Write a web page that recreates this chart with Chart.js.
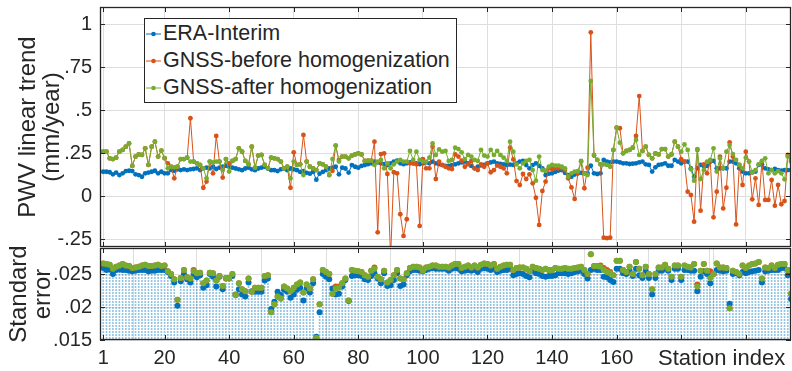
<!DOCTYPE html>
<html>
<head>
<meta charset="utf-8">
<script src="https://cdn.jsdelivr.net/npm/chart.js@4.4.1/dist/chart.umd.min.js"></script>
<style>
  html, body { margin: 0; padding: 0; background: #fff; }
  #wrap { position: relative; width: 792px; height: 371px; overflow: hidden; }
  #wrap canvas { position: absolute; left: 0; }
  #topCanvas { top: 0; }
  #bottomCanvas { top: 247px; }
  #legend {
    position: absolute; left: 144px; top: 18px; width: 311px; height: 82px;
    border: 1px solid #262626; background: #fff;
    font-family: "Liberation Sans", Arial, sans-serif; font-size: 21.5px; color: #262626;
    padding-top: 1px; box-sizing: content-box;
  }
  #legend .row { height: 27px; display: flex; align-items: center; white-space: nowrap; }
  #legend svg { margin-left: 1px; margin-right: 2px; flex: none; }
</style>
</head>
<body>
<div id="wrap">
  <canvas id="topCanvas" width="792" height="248"></canvas>
  <canvas id="bottomCanvas" width="792" height="124"></canvas>
  <div id="legend"></div>
</div>
<script>
// station index (x axis categories)
const stations = Array.from({ length: 214 }, (_, i) => i + 1);

// PWV linear trend (mm/year)
const eraTrend = [
  0.141,0.141,0.138,0.126,0.136,0.122,0.132,0.145,0.147,0.145,0.126,0.122,0.112,0.132,0.136,0.141,0.147,0.132,0.141,0.132,
  0.132,0.151,0.147,0.155,0.151,0.155,0.151,0.155,0.157,0.161,0.151,0.161,0.165,0.161,0.17,0.157,0.165,0.17,0.176,0.17,
  0.165,0.16,0.155,0.15,0.16,0.165,0.155,0.15,0.16,0.165,0.17,0.16,0.15,
  0.15,0.145,0.155,0.16,0.15,0.16,0.155,0.15,0.14,0.145,0.135,0.13,0.14,
  0.095,
  0.13,0.14,0.15,0.16,0.165,0.17,
  0.126,0.165,0.16,0.136,0.18,0.17,0.165,0.175,0.18,0.185,0.19,0.2,0.195,0.19,0.185,0.18,0.19,0.2,0.205,0.19,
  0.185,0.19,0.195,0.19,0.19,0.185,0.19,0.195,0.19,0.2,0.19,0.185,0.18,0.175,
  0.175,0.18,0.184,0.19,0.195,0.2,0.19,0.175,0.161,0.17,0.178,0.181,0.19,0.195,0.2,0.19,0.186,0.184,0.18,0.183,
  0.181,0.19,0.2,0.204,0.18,0.161,0.18,0.19,0.175,0.161,0.122,0.13,0.132,0.14,0.148,0.151,0.135,0.122,0.112,0.125,
  0.132,0.135,0.132,0.132,0.176,0.132,0.128,0.132,0.21,0.2,0.196,0.2,0.2,0.196,
  0.19,0.19,0.186,0.188,0.19,0.196,0.2,0.184,0.181,0.142,0.167,0.181,0.184,0.19,0.176,0.176,0.21,0.2,0.19,0.2,
  0.2,0.161,0.112,0.161,0.181,0.175,0.175,0.2,0.204,0.161,0.161,0.161,0.161,0.2,0.2,0.19,0.161,0.142,0.132,0.132,
  0.138,0.142,0.181,0.184,0.161,0.155,0.151,0.157,0.151,0.147,0.151,0.151,0.151
];
const beforeTrend = [
  0.258,0.258,0.219,0.215,0.223,0.258,0.268,0.287,0.306,0.175,0.229,0.242,0.239,0.277,0.181,0.287,0.316,0.229,0.264,0.22,
  0.19,0.17,0.103,0.17,0.215,0.215,0.223,0.452,0.2,0.19,0.181,0.048,0.084,0.2,0.132,0.349,0.2,0.107,0.215,0.19,
  0.204,0.215,0.277,0.258,0.204,0.184,0.287,0.165,0.235,0.239,0.181,0.161,0.223,
  0.219,0.215,0.2,0.161,0.17,0.048,0.254,0.181,0.184,0.355,0.2,0.17,0.161,0.151,0.19,0.184,0.17,0.122,0.147,0.293,
  0.21,0.229,0.229,0.219,0.235,0.242,0.248,0.242,0.204,0.206,0.206,0.316,-0.211,0.244,0.248,0.128,-0.35,0.138,0.132,-0.106,
  -0.232,-0.135,0.19,0.19,0.184,-0.174,0.215,0.161,0.161,0.287,0.099,0.2,0.181,0.17,
  0.161,0.157,0.242,0.229,0.206,0.17,0.184,0.204,0.161,0.151,0.184,0.17,0.19,0.138,0.151,0.177,0.17,0.161,0.132,0.281,
  0.213,0.087,0.064,0.128,0.099,0.126,0.074,-0.01,-0.168,0.029,0.084,0.161,0.157,0.161,0.161,0.161,0.151,0.103,0.05,-0.017,
  0.132,0.2,0.045,0.165,0.952,0.235,0.21,0.184,-0.242,-0.245,-0.242,0.268,0.397,0.394,
  0.248,0.262,0.268,0.281,0.349,0.581,0.262,0.287,0.239,0.219,0.248,0.242,0.273,0.273,0.229,0.242,0.316,0.287,0.215,0.2,
  0.025,0.006,-0.149,0.268,-0.085,0.184,0.132,0.2,-0.124,0.025,0.229,-0.072,0.048,0.312,0.229,-0.165,0.181,0.064,0.258,0.2,
  -0.019,0.103,-0.052,0.2,-0.023,-0.023,0.093,-0.056,0.064,-0.048,-0.029,0.239,0.21
];
const afterTrend = [
  0.258,0.258,0.219,0.215,0.223,0.258,0.268,0.287,0.306,0.175,0.229,0.242,0.239,0.277,0.181,0.287,0.316,0.229,0.264,0.22,
  0.161,0.17,0.167,0.17,0.215,0.215,0.223,0.2,0.2,0.19,0.181,0.161,0.103,0.2,0.196,0.2,0.2,0.151,0.215,0.142,
  0.204,0.215,0.277,0.258,0.204,0.184,0.287,0.165,0.235,0.239,0.181,0.161,0.223,
  0.219,0.215,0.2,0.161,0.17,0.103,0.2,0.181,0.184,0.122,0.2,0.17,0.161,0.151,0.19,0.184,0.17,0.122,0.215,0.293,
  0.2,0.229,0.229,0.219,0.235,0.242,0.248,0.242,0.204,0.206,0.206,0.181,0.2,0.21,0.161,0.19,0.161,0.184,0.2,0.21,
  0.2,0.2,0.262,0.21,0.258,0.21,0.2,0.2,0.223,0.306,0.239,0.271,0.258,0.262,
  0.204,0.21,0.281,0.273,0.254,0.215,0.239,0.229,0.21,0.204,0.268,0.235,0.229,0.268,0.239,0.262,0.239,0.223,0.204,0.316,
  0.258,0.184,0.161,0.19,0.204,0.21,0.151,0.089,0.229,0.151,0.147,0.17,0.181,0.177,0.177,0.17,0.161,0.112,0.132,0.142,
  0.145,0.204,0.132,0.122,0.669,0.239,0.21,0.184,0.184,0.181,0.17,0.268,0.397,0.31,
  0.248,0.262,0.268,0.281,0.326,0.239,0.262,0.287,0.239,0.219,0.248,0.242,0.273,0.273,0.229,0.242,0.316,0.287,0.258,0.3,
  0.268,0.155,0.089,0.273,0.099,0.151,0.2,0.21,0.277,0.142,0.219,0.161,0.258,0.296,0.244,0.21,0.181,0.161,0.223,0.2,
  0.136,0.151,0.184,0.204,0.219,0.132,0.151,0.132,0.145,0.132,0.097,0.229,0.2
];

// standard error of the trends
const eraSE = [
  0.0259,0.0256,0.0257,0.025,0.0256,0.0257,0.0256,0.0256,0.0255,0.0254,0.0255,0.0256,0.0256,0.0256,0.0254,0.0255,0.0255,0.0256,0.0256,0.0256,
  0.0253,0.0247,0.0237,0.0202,0.0239,0.025,0.0242,0.0237,0.025,0.0245,0.0248,0.0229,0.0233,0.025,0.0246,0.0231,0.0246,0.0227,0.0243,0.0243,
  0.0247,0.0219,0.0227,0.0219,0.0216,0.0237,0.0224,0.0223,0.0223,0.0223,0.024,0.0243,0.0197,
  0.0208,0.0223,0.0218,0.0226,0.0223,0.0214,0.0219,0.0226,0.0229,0.021,0.0228,0.0222,0.0236,0.0155,0.0192,0.025,0.0246,0.0242,0.0228,0.0219,
  0.022,0.0231,0.0241,0.0209,0.0247,0.0248,0.0248,0.0247,0.0242,0.0241,0.0247,0.0251,0.0243,0.0236,0.0251,0.0232,0.0233,0.0241,0.0251,0.0232,
  0.0234,0.0248,0.0254,0.0256,0.0256,0.0255,0.0254,0.0256,0.0258,0.0259,0.0258,0.0258,0.0258,0.0258,
  0.0255,0.0258,0.0259,0.0258,0.0254,0.0255,0.0256,0.0255,0.0256,0.0253,0.0258,0.0259,0.0258,0.0256,0.0258,0.0253,0.0255,0.0256,0.0256,0.0258,
  0.0248,0.025,0.0251,0.025,0.0247,0.0245,0.0255,0.0251,0.025,0.0247,0.0246,0.0247,0.0247,0.0248,0.0251,0.0251,0.0251,0.025,0.0251,0.0253,
  0.0254,0.0255,0.025,0.0243,0.0256,0.0258,0.0256,0.0256,0.0246,0.0245,0.0241,0.0238,0.0258,0.0258,
  0.0251,0.025,0.0255,0.0247,0.0258,0.0248,0.0244,0.0254,0.0244,0.0219,0.0244,0.0255,0.0255,0.0258,0.0255,0.0241,0.0258,0.0258,0.0241,0.0256,
  0.0256,0.0255,0.0255,0.0224,0.0246,0.0254,0.025,0.0236,0.025,0.0256,0.0255,0.0254,0.0255,0.0205,0.025,0.0251,0.0248,0.0253,0.0251,0.0253,
  0.0254,0.0255,0.0256,0.0237,0.0254,0.0255,0.0256,0.0256,0.0256,0.0259,0.0259,0.0248,0.0212
];
const beforeSE = [
  0.0266,0.0265,0.0264,0.0258,0.0261,0.0263,0.0265,0.0263,0.0262,0.0259,0.026,0.0261,0.0263,0.0264,0.0262,0.0262,0.0263,0.0264,0.0262,0.0263,
  0.0254,0.025,0.0242,0.0211,0.0244,0.0256,0.0245,0.0243,0.0256,0.0251,0.0252,0.0236,0.024,0.0252,0.0251,0.024,0.0247,0.0232,0.0244,0.0244,
  0.025,0.0218,0.0236,0.0227,0.0224,0.0243,0.0223,0.0229,0.0229,0.0229,0.0247,0.0248,0.0192,
  0.0204,0.0216,0.0213,0.0231,0.0228,0.0224,0.0229,0.0234,0.0237,0.0222,0.0234,0.0228,0.0242,0.0153,0.0204,0.0256,0.0253,0.025,0.022,0.0231,
  0.0231,0.0236,0.0243,0.021,0.0256,0.0255,0.0254,0.0253,0.0248,0.0246,0.0255,0.026,0.0246,0.0242,0.0255,0.0237,0.0241,0.0248,0.0256,0.0243,
  0.0242,0.0251,0.0259,0.0261,0.0261,0.026,0.0255,0.026,0.0261,0.0263,0.0263,0.0261,0.0261,0.0261,
  0.026,0.0263,0.0265,0.0265,0.0259,0.0261,0.0263,0.026,0.0263,0.026,0.0264,0.0266,0.0265,0.0263,0.0265,0.0258,0.0261,0.0263,0.0264,0.0264,
  0.0256,0.0259,0.026,0.026,0.0258,0.0254,0.0261,0.0259,0.0258,0.0256,0.0258,0.0256,0.0256,0.0259,0.0258,0.0258,0.0259,0.0258,0.0258,0.0259,
  0.026,0.0261,0.0256,0.025,0.028,0.0262,0.0262,0.0263,0.0259,0.0256,0.0253,0.0248,0.027,0.027,
  0.0256,0.0253,0.0261,0.025,0.0268,0.0258,0.0248,0.0261,0.025,0.0227,0.025,0.026,0.026,0.0264,0.0258,0.0246,0.0263,0.0263,0.0246,0.0263,
  0.0261,0.026,0.0265,0.0234,0.0255,0.0265,0.0255,0.0254,0.025,0.0266,0.026,0.026,0.0259,0.0198,0.0255,0.0253,0.025,0.0263,0.0259,0.0263,
  0.0265,0.0266,0.0268,0.0243,0.026,0.0259,0.0263,0.0259,0.0264,0.0265,0.0265,0.0256,0.022
];
const afterSE = [
  0.0266,0.0265,0.0264,0.0258,0.0261,0.0263,0.0265,0.0263,0.0262,0.0259,0.026,0.0261,0.0263,0.0264,0.0262,0.0262,0.0263,0.0264,0.0262,0.0263,
  0.0254,0.025,0.0242,0.0211,0.0244,0.0256,0.0245,0.0243,0.0254,0.0251,0.0252,0.0236,0.024,0.0252,0.0251,0.024,0.0247,0.0232,0.0244,0.0244,
  0.025,0.0218,0.0236,0.0227,0.0224,0.0243,0.0223,0.0229,0.0229,0.0229,0.0247,0.0248,0.0192,
  0.0204,0.0216,0.0213,0.0231,0.0228,0.0224,0.0229,0.0234,0.0237,0.0222,0.0234,0.0228,0.0242,0.0153,0.0204,0.0256,0.0253,0.025,0.022,0.0228,
  0.0229,0.0236,0.0243,0.021,0.0256,0.0255,0.0254,0.0253,0.0248,0.0246,0.0255,0.0258,0.0246,0.0242,0.0255,0.0237,0.0241,0.0248,0.0256,0.0243,
  0.0242,0.0251,0.0259,0.0261,0.0261,0.026,0.0255,0.026,0.0261,0.0263,0.0263,0.0261,0.0261,0.0261,
  0.026,0.0263,0.0265,0.0265,0.0259,0.0261,0.0263,0.026,0.0263,0.026,0.0264,0.0266,0.0265,0.0263,0.0265,0.0258,0.0261,0.0263,0.0264,0.0264,
  0.0256,0.0259,0.026,0.026,0.0258,0.0254,0.0261,0.0259,0.0258,0.0256,0.0258,0.0256,0.0256,0.0259,0.0258,0.0258,0.0259,0.0258,0.0258,0.0259,
  0.026,0.0261,0.0256,0.025,0.028,0.0262,0.0262,0.0261,0.0256,0.0253,0.0251,0.0248,0.027,0.027,
  0.0256,0.0253,0.0261,0.025,0.0268,0.0258,0.0248,0.0261,0.025,0.0227,0.025,0.026,0.026,0.0264,0.0258,0.0246,0.0263,0.0263,0.0246,0.0263,
  0.0261,0.026,0.0265,0.0231,0.0255,0.0265,0.0255,0.0244,0.025,0.0266,0.026,0.026,0.0259,0.0198,0.0255,0.0253,0.025,0.0263,0.0259,0.0263,
  0.0265,0.0266,0.0268,0.0243,0.026,0.0259,0.0263,0.0259,0.0264,0.0265,0.0265,0.0256,0.022
];

// axis ticks
const xTicks = [1, 20, 40, 60, 80, 100, 120, 140, 160, 180, 200];
const xTitlePos = 192.5; // "Station index" sits in place of the 180/200 labels
const trendTicks = [-0.25, 0, 0.25, 0.5, 0.75, 1];
const seTicks = [0.015, 0.02, 0.025];

const BLUE = '#0072BD', ORANGE = '#D95319', GREEN = '#77AC30';
const INK = '#262626', GRID = '#dedede';
const FONT = '"Liberation Sans", Arial, sans-serif';

const pts = vals => stations.map((s, i) => ({ x: s, y: vals[i] }));

// MATLAB style number: .25 instead of 0.25
function shortNum(v) {
  if (v === 0) return '0';
  const s = String(Math.abs(v)).replace(/^0/, '');
  return (v < 0 ? '-' : '') + s;
}

// axes box with inward tick marks
const boxPlugin = {
  id: 'box',
  afterDraw(chart) {
    const { ctx, chartArea: a, scales } = chart;
    ctx.save();
    ctx.strokeStyle = INK;
    ctx.lineWidth = 1;
    ctx.beginPath();
    xTicks.forEach(v => {
      const x = Math.round(scales.x.getPixelForValue(v)) + 0.5;
      ctx.moveTo(x, a.top); ctx.lineTo(x, a.top + 5);
      ctx.moveTo(x, a.bottom); ctx.lineTo(x, a.bottom - 5);
    });
    scales.y.ticks.forEach(t => {
      const y = Math.round(scales.y.getPixelForValue(t.value)) + 0.5;
      ctx.moveTo(a.left, y); ctx.lineTo(a.left + 5, y);
      ctx.moveTo(a.right, y); ctx.lineTo(a.right - 5, y);
    });
    ctx.stroke();
    ctx.lineWidth = 1.3;
    ctx.strokeRect(a.left + 0.5, a.top + 0.5, a.right - a.left - 1, a.bottom - a.top - 1);
    ctx.restore();
  }
};

function xScale(showLabels) {
  return {
    type: 'linear', min: 0, max: 214, offset: false,
    border: { display: false },
    afterBuildTicks: s => { s.ticks = xTicks.concat(showLabels ? [xTitlePos] : []).map(v => ({ value: v })); },
    afterFit: s => {
      s.height = showLabels ? 31 : 0;
      s.paddingLeft = 0; s.paddingRight = 0;
    },
    grid: {
      drawTicks: false,
      color: c => (c.tick && c.tick.value === xTitlePos) ? 'rgba(0,0,0,0)' : GRID
    },
    ticks: {
      display: showLabels, autoSkip: false, maxRotation: 0, padding: 6, color: INK,
      font: c => ({ family: FONT, size: (c.tick && c.tick.value === xTitlePos) ? 22 : 20 }),
      callback: v => v === xTitlePos ? 'Station index' : (v === 180 || v === 200 ? '' : String(v))
    }
  };
}

function yScale(min, max, ticks, title, titlePad) {
  return {
    type: 'linear', min: min, max: max,
    border: { display: false },
    afterBuildTicks: s => { s.ticks = ticks.map(v => ({ value: v })); },
    afterFit: s => {
      s.width = 100;
      s.paddingTop = 0; s.paddingBottom = 0;
    },
    grid: { drawTicks: false, color: GRID },
    ticks: { padding: 8, color: INK, font: { family: FONT, size: 20 }, callback: v => shortNum(v) },
    title: {
      display: true, text: title, color: INK,
      font: { family: FONT, size: 24, lineHeight: 1 },
      padding: { top: titlePad, bottom: 0 }
    }
  };
}

const lineSet = (label, vals, color, order) => ({
  label: label, data: pts(vals), order: order,
  borderColor: color, backgroundColor: color, borderWidth: 1,
  pointRadius: 2.4, pointBorderWidth: 0, pointBackgroundColor: color, tension: 0
});

const topChart = new Chart(document.getElementById('topCanvas'), {
  type: 'line',
  data: {
    datasets: [
      lineSet('ERA-Interim', eraTrend, BLUE, 2),
      lineSet('GNSS-before homogenization', beforeTrend, ORANGE, 1),
      lineSet('GNSS-after homogenization', afterTrend, GREEN, 0)
    ]
  },
  options: {
    responsive: false, animation: false, devicePixelRatio: 1, events: [],
    layout: { autoPadding: false, padding: { top: 7, right: 1, bottom: 1, left: 0 } },
    plugins: { legend: { display: false }, tooltip: { enabled: false } },
    scales: {
      x: xScale(false),
      y: yScale(-0.2965, 1.099, trendTicks, ['PWV linear trend', '(mm/year)'], 16)
    }
  },
  plugins: [boxPlugin]
});

// dotted light blue stems under the ERA standard errors
function stemPattern() {
  const c = document.createElement('canvas');
  c.width = 1; c.height = 3;
  const g = c.getContext('2d');
  g.fillStyle = 'rgba(0,114,189,0.42)';
  g.fillRect(0, 0, 1, 2);
  return g.createPattern(c, 'repeat');
}

const dotSet = (label, vals, color, order) => ({
  label: label, data: pts(vals), order: order, showLine: false,
  borderColor: color, backgroundColor: color,
  pointRadius: 3, pointBorderWidth: 0, pointBackgroundColor: color
});

const bottomChart = new Chart(document.getElementById('bottomCanvas'), {
  type: 'line',
  data: {
    datasets: [
      { type: 'bar', label: 'stem', data: pts(eraSE), order: 3, barThickness: 1,
        backgroundColor: stemPattern(), borderWidth: 0 },
      dotSet('ERA-Interim', eraSE, BLUE, 2),
      dotSet('GNSS-before homogenization', beforeSE, ORANGE, 1),
      dotSet('GNSS-after homogenization', afterSE, GREEN, 0)
    ]
  },
  options: {
    responsive: false, animation: false, devicePixelRatio: 1, events: [],
    layout: { autoPadding: false, padding: { top: 1, right: 1, bottom: 0, left: 0 } },
    plugins: { legend: { display: false }, tooltip: { enabled: false } },
    scales: {
      x: xScale(true),
      y: yScale(0.015, 0.02894, seTicks, ['Standard', 'error'], 7)
    }
  },
  plugins: [boxPlugin]
});

// legend box built from the top chart datasets
const legendEl = document.getElementById('legend');
topChart.data.datasets.forEach(ds => {
  const row = document.createElement('div');
  row.className = 'row';
  row.innerHTML =
    '<svg width="15" height="10"><line x1="0" y1="5" x2="15" y2="5" stroke="' + ds.borderColor +
    '" stroke-width="1"/><circle cx="7.5" cy="5" r="2.3" fill="' + ds.borderColor + '"/></svg>';
  const span = document.createElement('span');
  span.textContent = ds.label;
  row.appendChild(span);
  legendEl.appendChild(row);
});
</script>
</body>
</html>
